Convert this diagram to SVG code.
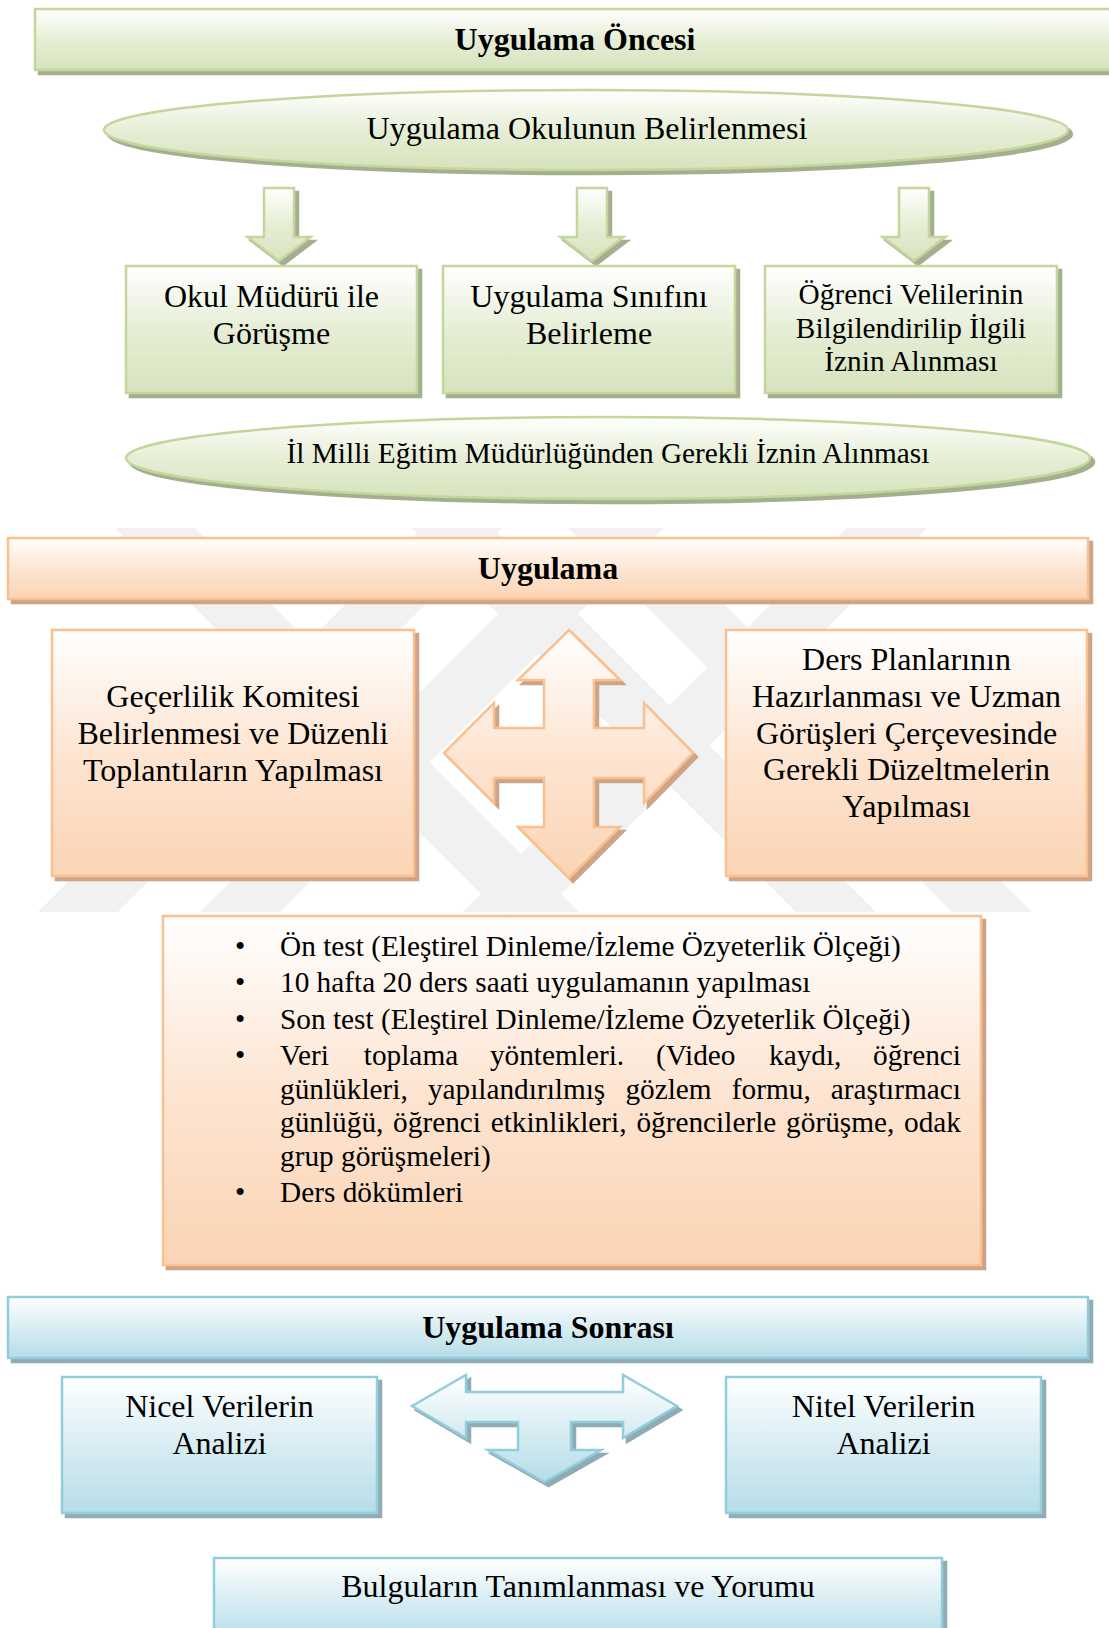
<svg xmlns="http://www.w3.org/2000/svg" width="1109" height="1628" viewBox="0 0 1109 1628">
  <defs>
    <linearGradient id="gG" x1="0" y1="0" x2="0" y2="1">
      <stop offset="0" stop-color="#ffffff"/>
      <stop offset="0.5" stop-color="#e6eed6"/>
      <stop offset="1" stop-color="#d6e3bc"/>
    </linearGradient>
    <linearGradient id="gO" x1="0" y1="0" x2="0" y2="1">
      <stop offset="0" stop-color="#ffffff"/>
      <stop offset="0.5" stop-color="#fde5d2"/>
      <stop offset="1" stop-color="#fbd4b4"/>
    </linearGradient>
    <linearGradient id="gB" x1="0" y1="0" x2="0" y2="1">
      <stop offset="0" stop-color="#ffffff"/>
      <stop offset="0.5" stop-color="#d8edf3"/>
      <stop offset="1" stop-color="#b6dde8"/>
    </linearGradient>
    <filter id="fG" x="-10%" y="-10%" width="130%" height="130%">
      <feOffset in="SourceAlpha" dx="4" dy="4" result="o"/>
      <feFlood flood-color="#a4af8f"/>
      <feComposite in2="o" operator="in" result="s"/>
      <feMerge><feMergeNode in="s"/><feMergeNode in="SourceGraphic"/></feMerge>
    </filter>
    <filter id="fO" x="-10%" y="-10%" width="130%" height="130%">
      <feOffset in="SourceAlpha" dx="4" dy="4" result="o"/>
      <feFlood flood-color="#cca487"/>
      <feComposite in2="o" operator="in" result="s"/>
      <feMerge><feMergeNode in="s"/><feMergeNode in="SourceGraphic"/></feMerge>
    </filter>
    <filter id="fB" x="-10%" y="-10%" width="130%" height="130%">
      <feOffset in="SourceAlpha" dx="4" dy="4" result="o"/>
      <feFlood flood-color="#8fabb3"/>
      <feComposite in2="o" operator="in" result="s"/>
      <feMerge><feMergeNode in="s"/><feMergeNode in="SourceGraphic"/></feMerge>
    </filter>
    <clipPath id="wmClip"><rect x="0" y="528" width="1109" height="384"/></clipPath>
  </defs>
  <style>
    .g { fill: url(#gG); stroke: #c3d69b; stroke-width: 2.5; filter: url(#fG); }
    .o { fill: url(#gO); stroke: #fac08f; stroke-width: 2.5; filter: url(#fO); }
    .b { fill: url(#gB); stroke: #92cddc; stroke-width: 2.5; filter: url(#fB); }
    text { font-family: "Liberation Serif", "Times New Roman", serif; fill: #000; }
    .c { text-anchor: middle; }
    .s32 { font-size: 32px; }
    .s29 { font-size: 29.3px; }
    .hd { font-size: 32px; font-weight: bold; }
    .wm { fill: #f1f1f1; }
  </style>

  <rect width="1109" height="1628" fill="#ffffff"/>

  <!-- faint striped background mark behind the middle section -->
  <g id="background-mark" clip-path="url(#wmClip)">
    <polygon class="wm" points="92,505 172,505 582,915 502,915"/>
    <polygon class="wm" points="389,505 469,505 879,915 799,915"/>
    <polygon class="wm" points="545,505 625,505 1035,915 955,915"/>
    <polygon class="wm" points="445,505 525,505 115,915 35,915"/>
    <polygon class="wm" points="607,505 687,505 277,915 197,915"/>
    <polygon class="wm" points="870,505 950,505 540,915 460,915"/>
  </g>

  <!-- block arrows -->
  <g id="connectors">
    <polygon class="g" stroke-width="2" points="264,188 294,188 294,237 310.5,237 279,261 247.5,237 264,237"/>
    <polygon class="g" stroke-width="2" points="577,188 607,188 607,237 623.5,237 592,261 560.5,237 577,237"/>
    <polygon class="g" stroke-width="2" points="899,188 929,188 929,237 945.5,237 914,261 882.5,237 899,237"/>
    <polygon class="o" stroke-width="2" points="569,630 620,680 594,680 594,728 644,728 644,703 693,753 644,803 644,778 594,778 594,827 620,827 569,878 518,827 544,827 544,778 494,778 494,803 444,753 494,703 494,728 544,728 544,680 518,680"/>
    <polygon class="b" stroke-width="2" points="412,1406 466,1375 466,1392 623,1392 623,1375 677,1406 623,1438 623,1422 571,1422 571,1450 601,1450 544.5,1482 488,1450 518,1450 518,1422 466,1422 466,1438"/>
  </g>

  <!-- before the application -->
  <g id="header-pre">
    <rect class="g" x="35" y="9" width="1080" height="61"/>
    <text class="c hd" x="575" y="50">Uygulama Öncesi</text>
  </g>
  <g id="school-selection">
    <ellipse class="g" cx="586" cy="130" rx="482" ry="40"/>
    <text class="c s32" x="587" y="139">Uygulama Okulunun Belirlenmesi</text>
  </g>
  <g id="principal-meeting">
    <rect class="g" x="126" y="266" width="291" height="127"/>
    <text class="c s32" x="271.5" y="307">Okul Müdürü ile</text>
    <text class="c s32" x="271.5" y="343.8">Görüşme</text>
  </g>
  <g id="class-selection">
    <rect class="g" x="443" y="266" width="292" height="127"/>
    <text class="c s32" x="589" y="307">Uygulama Sınıfını</text>
    <text class="c s32" x="589" y="343.8">Belirleme</text>
  </g>
  <g id="parent-consent">
    <rect class="g" x="765" y="266" width="292" height="127"/>
    <text class="c s29" x="911" y="304">Öğrenci Velilerinin</text>
    <text class="c s29" x="911" y="337.7">Bilgilendirilip İlgili</text>
    <text class="c s29" x="911" y="371.4">İznin Alınması</text>
  </g>
  <g id="directorate-permission">
    <ellipse class="g" cx="608" cy="458" rx="482" ry="41"/>
    <text class="c s29" x="608" y="463">İl Milli Eğitim Müdürlüğünden Gerekli İznin Alınması</text>
  </g>

  <!-- application -->
  <g id="header-main">
    <rect class="o" x="8" y="538" width="1080" height="61"/>
    <text class="c hd" x="548" y="579">Uygulama</text>
  </g>
  <g id="validity-committee">
    <rect class="o" x="52" y="630" width="362" height="246"/>
    <text class="c s32" x="233" y="707">Geçerlilik Komitesi</text>
    <text class="c s32" x="233" y="743.8">Belirlenmesi ve Düzenli</text>
    <text class="c s32" x="233" y="780.6">Toplantıların Yapılması</text>
  </g>
  <g id="lesson-plans">
    <rect class="o" x="726" y="630" width="361" height="246"/>
    <text class="c s32" x="906.5" y="670">Ders Planlarının</text>
    <text class="c s32" x="906.5" y="706.8">Hazırlanması ve Uzman</text>
    <text class="c s32" x="906.5" y="743.6">Görüşleri Çerçevesinde</text>
    <text class="c s32" x="906.5" y="780.4">Gerekli Düzeltmelerin</text>
    <text class="c s32" x="906.5" y="817.2">Yapılması</text>
  </g>
  <g id="procedure-list">
    <rect class="o" x="163" y="916" width="818" height="349"/>
    <g class="s29">
      <text x="235" y="956">•</text>
      <text x="235" y="992.3">•</text>
      <text x="235" y="1028.6">•</text>
      <text x="235" y="1064.9">•</text>
      <text x="235" y="1202.3">•</text>
      <text x="280" y="956">Ön test (Eleştirel Dinleme/İzleme Özyeterlik Ölçeği)</text>
      <text x="280" y="992.3">10 hafta 20 ders saati uygulamanın yapılması</text>
      <text x="280" y="1028.6">Son test (Eleştirel Dinleme/İzleme Özyeterlik Ölçeği)</text>
      <text y="1064.9"><tspan x="280">Veri</tspan><tspan x="363.8">toplama</tspan><tspan x="489.9">yöntemleri.</tspan><tspan x="655.9">(Video</tspan><tspan x="769">kaydı,</tspan><tspan x="873.1">öğrenci</tspan></text>
      <text y="1098.6"><tspan x="280">günlükleri,</tspan><tspan x="427.9">yapılandırılmış</tspan><tspan x="625.4">gözlem</tspan><tspan x="731.8">formu,</tspan><tspan x="830.8">araştırmacı</tspan></text>
      <text y="1132.3"><tspan x="280">günlüğü,</tspan><tspan x="393.1">öğrenci</tspan><tspan x="490.7">etkinlikleri,</tspan><tspan x="636.4">öğrencilerle</tspan><tspan x="786.1">görüşme,</tspan><tspan x="904">odak</tspan></text>
      <text x="280" y="1166">grup görüşmeleri)</text>
      <text x="280" y="1202.3">Ders dökümleri</text>
    </g>
  </g>

  <!-- after the application -->
  <g id="header-post">
    <rect class="b" x="8" y="1297" width="1080" height="61"/>
    <text class="c hd" x="548" y="1338">Uygulama Sonrası</text>
  </g>
  <g id="quantitative-analysis">
    <rect class="b" x="62" y="1377" width="315" height="136"/>
    <text class="c s32" x="219.5" y="1417">Nicel Verilerin</text>
    <text class="c s32" x="219.5" y="1453.8">Analizi</text>
  </g>
  <g id="qualitative-analysis">
    <rect class="b" x="726" y="1377" width="315" height="136"/>
    <text class="c s32" x="883.5" y="1417">Nitel Verilerin</text>
    <text class="c s32" x="883.5" y="1453.8">Analizi</text>
  </g>
  <g id="findings">
    <rect class="b" x="214" y="1558" width="728" height="84"/>
    <text class="c s32" x="578" y="1597">Bulguların Tanımlanması ve Yorumu</text>
  </g>
</svg>
